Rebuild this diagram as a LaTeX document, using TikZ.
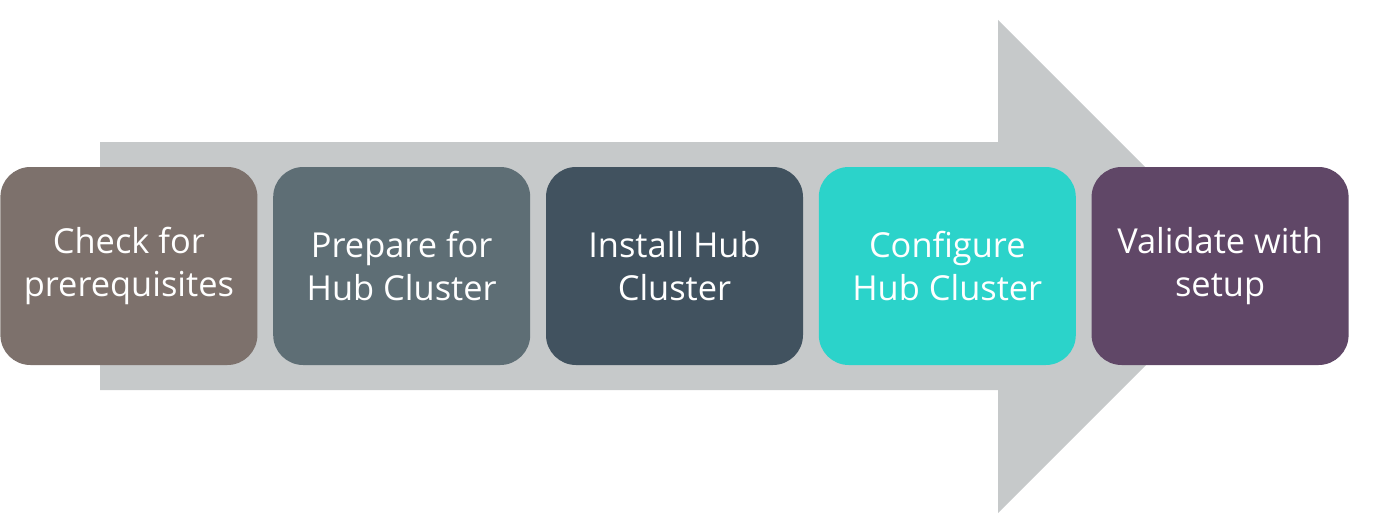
\documentclass[tikz,border=0pt]{standalone}
\usepackage{fontspec}
\setmainfont{Open Sans}
\usepackage{xcolor}
\usepackage{tikz}
\usetikzlibrary{positioning}
\definecolor{arrowgrey}{HTML}{C6C9CA}
\definecolor{stepA}{HTML}{7D716C}
\definecolor{stepB}{HTML}{5E6E75}
\definecolor{stepC}{HTML}{41525F}
\definecolor{stepD}{HTML}{2BD3CA}
\definecolor{stepE}{HTML}{604767}
\tikzset{
  bigArrow/.style={fill=arrowgrey, draw=none},
  stepBox/.style={rounded corners=15pt, minimum width=128.5pt, minimum height=99pt,
    inner sep=2pt, align=center, text=white, font=\fontsize{17.2}{21.5}\selectfont},
}

\begin{document}
\begin{tikzpicture}[x=0.5pt, y=0.5pt]
  \useasboundingbox (0,0) rectangle (1388,521);

  % grey process arrow
  \fill[bigArrow] (100,131) -- (100,379) -- (998,379) -- (998,501)
    -- (1244.5,254.5) -- (998,8) -- (998,131) -- cycle;

  \node[stepBox, fill=stepA, anchor=west] (check) at (0,255) {Check for\\prerequisites};
  \node[stepBox, fill=stepB, right=7.5pt of check] (prepare) {Prepare for\\Hub Cluster};
  \node[stepBox, fill=stepC, right=7.5pt of prepare] (install) {Install Hub\\Cluster};
  \node[stepBox, fill=stepD, right=7.5pt of install] (configure) {Configure\\Hub Cluster};
  \node[stepBox, fill=stepE, right=7.5pt of configure] (validate) {Validate with\\setup};
\end{tikzpicture}
\end{document}
